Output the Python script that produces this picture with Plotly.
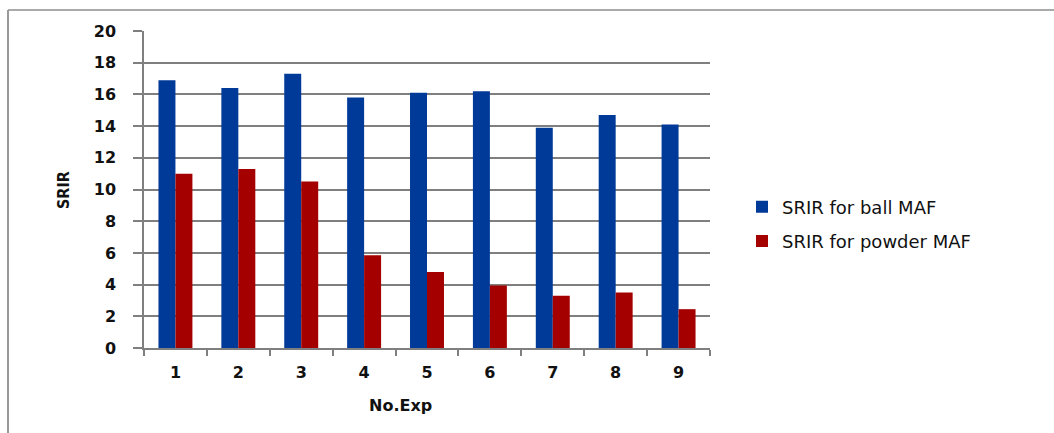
import plotly.graph_objects as go

experiments = ["1", "2", "3", "4", "5", "6", "7", "8", "9"]
srir_ball = [16.9, 16.4, 17.3, 15.8, 16.1, 16.2, 13.9, 14.7, 14.1]
srir_powder = [11.0, 11.3, 10.5, 5.85, 4.8, 3.95, 3.3, 3.5, 2.45]

BLUE = "#003a99"
RED = "#a50000"
GRID = "#7f7f7f"

W, H = 1054, 433
L, R, T, B = 144, 344, 31, 85
pw, ph = W - L - R, H - T - B


def px(x):
    return (x - L) / pw


def py(y):
    return (H - B - y) / ph


fig = go.Figure()
fig.add_trace(go.Bar(x=experiments, y=srir_ball, name="SRIR for ball MAF",
                     marker=dict(color=BLUE, line=dict(width=0)),
                     legendgroup="a"))
fig.add_trace(go.Bar(x=experiments, y=srir_powder, name="SRIR for powder MAF",
                     marker=dict(color=RED, line=dict(width=0)),
                     legendgroup="b"))

tick_font = dict(family="DejaVu Sans", size=16, color="#111111", weight="bold")

fig.update_layout(
    width=W, height=H,
    margin=dict(l=L, r=R, t=T, b=B, autoexpand=False),
    paper_bgcolor="white", plot_bgcolor="white",
    barmode="group", bargap=0.46, bargroupgap=0,
    showlegend=True,
    legend=dict(x=px(742), y=py(224), xanchor="left", yanchor="middle",
                font=dict(family="DejaVu Sans", size=18, color="#111111"),
                tracegroupgap=8, traceorder="grouped",
                bgcolor="rgba(0,0,0,0)"),
    xaxis=dict(type="category", tickson="boundaries", ticks="outside",
               ticklen=6, tickwidth=1.5, tickcolor=GRID,
               showline=True, linecolor=GRID, linewidth=1.5,
               showgrid=False, tickfont=tick_font, ticklabelstandoff=9,
               fixedrange=True),
    yaxis=dict(range=[0, 20], dtick=2, ticks="outside", ticklen=9,
               tickwidth=1.5, tickcolor=GRID,
               showline=True, linecolor=GRID, linewidth=1.5,
               showgrid=True, gridcolor=GRID, gridwidth=1.5,
               zeroline=False, tickfont=tick_font, ticklabelstandoff=14,
               fixedrange=True),
    annotations=[
        dict(text="<b>No.Exp</b>", x=px(400), y=py(405), xref="paper",
             yref="paper", showarrow=False, xanchor="center", yanchor="middle",
             font=dict(family="DejaVu Sans", size=16, color="#111111")),
        dict(text="<b>SRIR</b>", x=px(63), y=py(190), xref="paper",
             yref="paper", showarrow=False, xanchor="center", yanchor="middle",
             textangle=-90,
             font=dict(family="DejaVu Sans Condensed, DejaVu Sans",
                       size=16, color="#111111")),
    ],
    shapes=[
        dict(type="line", xref="paper", yref="paper", x0=px(8), x1=px(1054),
             y0=py(10), y1=py(10), line=dict(color="#aaaaaa", width=2)),
        dict(type="line", xref="paper", yref="paper", x0=px(8), x1=px(8),
             y0=py(10), y1=py(433), line=dict(color="#999999", width=2)),
    ],
)

fig.write_html("out.html")
